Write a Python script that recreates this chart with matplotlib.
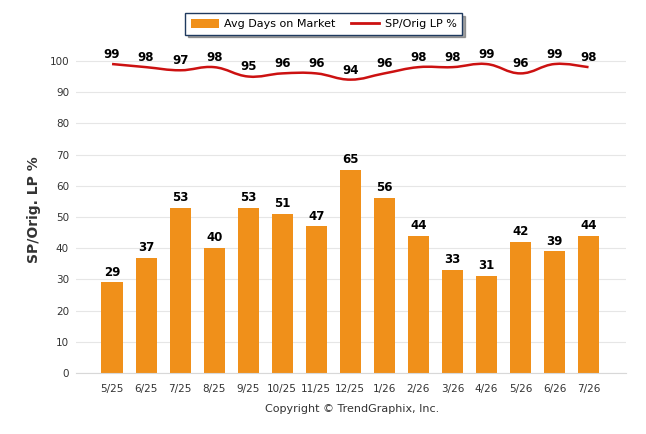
import matplotlib
matplotlib.use("Agg")
import matplotlib.pyplot as plt
from matplotlib.path import Path
from matplotlib.patches import PathPatch, Patch
from matplotlib.lines import Line2D
import numpy as np

months = ["5/25", "6/25", "7/25", "8/25", "9/25", "10/25", "11/25", "12/25",
          "1/26", "2/26", "3/26", "4/26", "5/26", "6/26", "7/26"]
days_on_market = [29, 37, 53, 40, 53, 51, 47, 65, 56, 44, 33, 31, 42, 39, 44]
sp_orig_lp = [99, 98, 97, 98, 95, 96, 96, 94, 96, 98, 98, 99, 96, 99, 98]
y_ticks = list(range(0, 101, 10))

fig = plt.figure(figsize=(6.46, 4.34), dpi=100)
ax = fig.add_axes([0.1176, 0.1406, 0.8514, 0.755])

x = np.arange(len(months))
bar_color = "#F0901A"
line_color = "#CC1111"

ax.bar(x, days_on_market, width=0.62, color=bar_color, zorder=2)
for xi, v in zip(x, days_on_market):
    ax.text(xi, v + 1.2, str(v), ha="center", va="bottom", fontsize=8.5,
            fontweight="bold", color="black", zorder=4)

# smooth curve (Catmull-Rom via cubic Bezier) through the data points
pts = np.column_stack([x, sp_orig_lp]).astype(float)
verts = [tuple(pts[0])]
codes = [Path.MOVETO]
t = 0.2
for i in range(len(pts) - 1):
    p0 = pts[i - 1] if i > 0 else pts[i]
    p1 = pts[i]
    p2 = pts[i + 1]
    p3 = pts[i + 2] if i + 2 < len(pts) else pts[i + 1]
    c1 = p1 + (p2 - p0) * t
    c2 = p2 - (p3 - p1) * t
    verts += [tuple(c1), tuple(c2), tuple(p2)]
    codes += [Path.CURVE4] * 3
ax.add_patch(PathPatch(Path(verts, codes), facecolor="none", edgecolor=line_color,
                       lw=1.8, zorder=3))
for xi, v in zip(x, sp_orig_lp):
    ax.text(xi, v + 1.0, str(v), ha="center", va="bottom", fontsize=8.5,
            fontweight="bold", color="black", zorder=4)

ax.set_xlim(-1.06, 15.1)
ax.set_ylim(0, 105)
ax.set_yticks(y_ticks)
ax.set_xticks(x)
ax.set_xticklabels(months)
ax.tick_params(axis="both", length=0, labelsize=7.5, labelcolor="#333333")
ax.tick_params(axis="x", pad=8)
ax.tick_params(axis="y", pad=5)
ax.grid(axis="y", color="#E6E6E6", lw=0.8, zorder=0)
for s in ["top", "right", "left"]:
    ax.spines[s].set_visible(False)
ax.spines["bottom"].set_color("#D8D8D8")
ax.set_ylabel("SP/Orig. LP %", fontsize=10, fontweight="bold", color="#333333",
              labelpad=6)

handles = [Patch(facecolor=bar_color, edgecolor="none"),
           Line2D([0], [0], color=line_color, lw=2)]
leg = fig.legend(handles, ["Avg Days on Market", "SP/Orig LP %"],
                 loc="center", bbox_to_anchor=(0.501, 0.945), ncol=2,
                 fontsize=8, frameon=True, fancybox=False, shadow=True,
                 handlelength=2.5, handleheight=0.9, handletextpad=0.5,
                 columnspacing=1.4, borderpad=0.5, edgecolor="#1F3A5F")
leg.get_frame().set_linewidth(1.0)

fig.text(0.545, 0.057, "Copyright © TrendGraphix, Inc.", ha="center", va="center",
         fontsize=8, color="#333333")

fig.savefig("out.png", dpi=100)
